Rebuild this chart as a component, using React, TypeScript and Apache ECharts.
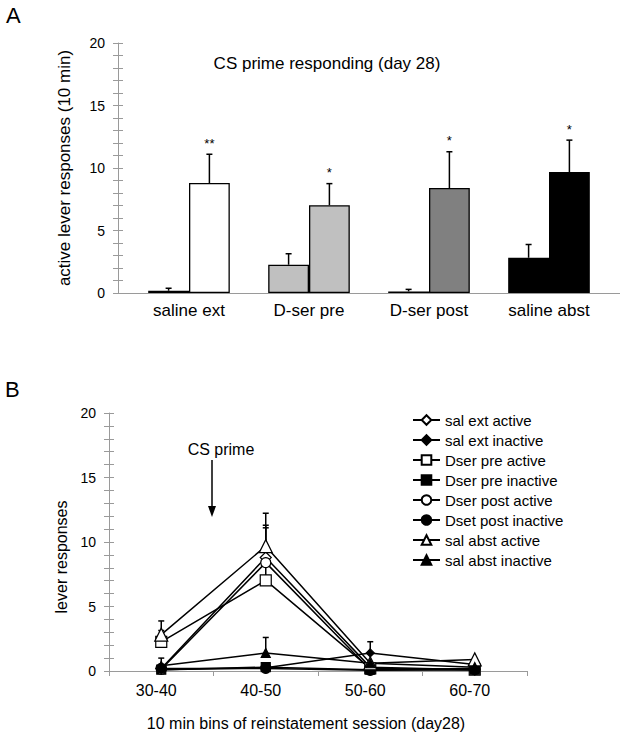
import React, { useEffect, useRef } from 'react';
import * as echarts from 'echarts';

// ---------- Panel A data ----------
const barCategories = ['saline ext', 'D-ser pre', 'D-ser post', 'saline abst'];
const preValues = [0.18, 2.26, 0.13, 2.82];
const preErrors = [0.2, 0.88, 0.16, 1.06];
const postValues = [8.8, 7.02, 8.4, 9.68];
const postErrors = [2.3, 1.73, 2.9, 2.55];
const barColors = ['#ffffff', '#c0c0c0', '#808080', '#000000'];
const significance = ['**', '*', '*', '*'];

// ---------- Panel B data ----------
const binCategories = ['30-40', '40-50', '50-60', '60-70'];
const lineNames = [
  'sal ext active',
  'sal ext inactive',
  'Dser pre active',
  'Dser pre inactive',
  'Dser post active',
  'Dset post inactive',
  'sal abst active',
  'sal abst inactive',
];
const salExtActive = [0.2, 8.8, 0.3, 0.1];
const salExtInactive = [0.1, 0.25, 1.4, 0.5];
const dserPreActive = [2.26, 7.02, 0.2, 0.1];
const dserPreInactive = [0.1, 0.3, 0.1, 0.1];
const dserPostActive = [0.13, 8.4, 0.1, 0.2];
const dserPostInactive = [0.2, 0.2, 0.05, 0.1];
const salAbstActive = [2.82, 9.68, 0.6, 0.9];
const salAbstInactive = [0.4, 1.4, 0.6, 0.3];

const salExtActiveErr = [0.2, 2.3, 0, 0];
const salExtInactiveErr = [0, 0, 0.87, 0];
const dserPreActiveErr = [0.88, 1.73, 0, 0];
const dserPreInactiveErr = [0, 0, 0, 0];
const dserPostActiveErr = [0.16, 2.9, 0, 0];
const dserPostInactiveErr = [0, 0, 0, 0];
const salAbstActiveErr = [1.06, 2.55, 0, 0];
const salAbstInactiveErr = [0.6, 1.2, 0, 0];

const lineValues = [
  salExtActive, salExtInactive, dserPreActive, dserPreInactive,
  dserPostActive, dserPostInactive, salAbstActive, salAbstInactive,
];
const lineErrors = [
  salExtActiveErr, salExtInactiveErr, dserPreActiveErr, dserPreInactiveErr,
  dserPostActiveErr, dserPostInactiveErr, salAbstActiveErr, salAbstInactiveErr,
];
const lineSymbols = ['diamond', 'diamond', 'rect', 'rect', 'circle', 'circle', 'triangle', 'triangle'];
const lineSymbolSizes = [11, 8, 11, 9, 10, 10, 13, 9];
const lineFills = ['#ffffff', '#000000', '#ffffff', '#000000', '#ffffff', '#000000', '#ffffff', '#000000'];

const FONT = 'Liberation Sans, Arial, Helvetica, sans-serif';
const AXIS_GRAY = '#9a9a9a';

export default function App() {
  const ref = useRef<HTMLDivElement>(null);

  useEffect(() => {
    if (!ref.current) return;
    const chart = echarts.init(ref.current, undefined, { renderer: 'svg' });

    const BAR_W = 0.34; // fraction of band

    const errItemsA: { cat: number; val: number; top: number; side: number; mark: string }[] = [];
    barCategories.forEach((_, i) => {
      errItemsA.push({ cat: i, val: preValues[i], top: preValues[i] + preErrors[i], side: -1, mark: '' });
      errItemsA.push({ cat: i, val: postValues[i], top: postValues[i] + postErrors[i], side: 1, mark: significance[i] });
    });

    const errItemsB: number[][] = [];
    lineValues.forEach((vals, s) => {
      vals.forEach((v, i) => {
        const e = lineErrors[s][i];
        if (e > 0) errItemsB.push([i, v, v + e]);
      });
    });

    const yAxisBase = (gridIndex: number, offset: number, inside: boolean, showLabel: boolean) => ({
      type: 'value',
      gridIndex,
      position: 'left',
      offset,
      min: 0,
      max: 20,
      interval: 5,
      axisLine: { show: !inside, lineStyle: { color: AXIS_GRAY, width: 1 } },
      axisTick: { show: true, inside, length: 5, lineStyle: { color: AXIS_GRAY } },
      minorTick: { show: true, splitNumber: 5, length: 5, lineStyle: { color: AXIS_GRAY } },
      splitLine: { show: false },
      minorSplitLine: { show: false },
      axisLabel: { show: showLabel, fontSize: 14, color: '#000', margin: 13, fontFamily: FONT },
    });

    const option: any = {
      animation: false,
      textStyle: { fontFamily: FONT },
      grid: [
        { left: 129, top: 43, width: 480, height: 250 },
        { left: 109, top: 413, width: 418, height: 258 },
      ],
      xAxis: [
        {
          type: 'category',
          gridIndex: 0,
          data: barCategories,
          axisLine: { show: false },
          axisTick: { show: false },
          axisLabel: { fontSize: 17, color: '#000', margin: 9, fontFamily: FONT },
        },
        {
          type: 'category',
          gridIndex: 1,
          data: binCategories,
          boundaryGap: true,
          axisLine: { show: true, lineStyle: { color: AXIS_GRAY, width: 1 } },
          axisTick: { show: true, inside: false, length: 5, interval: 0, lineStyle: { color: AXIS_GRAY } },
          axisLabel: { fontSize: 16, color: '#000', margin: 11, padding: [0, 10, 0, 0], fontFamily: FONT },
        },
      ],
      yAxis: [
        yAxisBase(0, 11, false, true),
        yAxisBase(0, 11, true, false),
        yAxisBase(1, 0, false, true),
        yAxisBase(1, 0, true, false),
      ],
      legend: {
        show: true,
        data: lineNames,
        orient: 'vertical',
        left: 412,
        top: 410,
        padding: 0,
        itemWidth: 27,
        itemHeight: 12,
        itemGap: 0,
        selectedMode: false,
        textStyle: { fontSize: 15, lineHeight: 20, color: '#000', fontFamily: FONT },
      },
      series: [
        {
          type: 'bar',
          xAxisIndex: 0,
          yAxisIndex: 0,
          barWidth: BAR_W * 100 + '%',
          barGap: '0%',
          data: preValues.map((v, i) => ({ value: v, itemStyle: { color: barColors[i] } })),
          itemStyle: { borderColor: '#000', borderWidth: 1.3 },
          z: 2,
        },
        {
          type: 'bar',
          xAxisIndex: 0,
          yAxisIndex: 0,
          barWidth: BAR_W * 100 + '%',
          barGap: '0%',
          data: postValues.map((v, i) => ({ value: v, itemStyle: { color: barColors[i] } })),
          itemStyle: { borderColor: '#000', borderWidth: 1.3 },
          z: 2,
        },
        {
          type: 'custom',
          xAxisIndex: 0,
          yAxisIndex: 0,
          z: 3,
          silent: true,
          data: errItemsA.map((d) => [d.cat, d.val, d.top, d.side]),
          renderItem: (params: any, api: any) => {
            const item = errItemsA[params.dataIndex];
            const base = api.coord([api.value(0), api.value(1)]);
            const top = api.coord([api.value(0), api.value(2)]);
            const band = api.size([1, 0])[0];
            const x = base[0] + (api.value(3) * band * BAR_W) / 2;
            const children: any[] = [
              { type: 'line', shape: { x1: x, y1: base[1], x2: x, y2: top[1] }, style: { stroke: '#000', lineWidth: 1.5 } },
              { type: 'line', shape: { x1: x - 3, y1: top[1], x2: x + 3, y2: top[1] }, style: { stroke: '#000', lineWidth: 1.5 } },
            ];
            if (item.mark) {
              children.push({
                type: 'text',
                x,
                y: top[1] - 11,
                style: { text: item.mark, fontSize: 13, fill: '#000', align: 'center', verticalAlign: 'middle', fontFamily: FONT },
              });
            }
            return { type: 'group', children };
          },
        },
        {
          type: 'custom',
          xAxisIndex: 1,
          yAxisIndex: 2,
          z: 1,
          silent: true,
          data: errItemsB,
          renderItem: (params: any, api: any) => {
            const base = api.coord([api.value(0), api.value(1)]);
            const top = api.coord([api.value(0), api.value(2)]);
            const x = base[0];
            return {
              type: 'group',
              children: [
                { type: 'line', shape: { x1: x, y1: base[1], x2: x, y2: top[1] }, style: { stroke: '#000', lineWidth: 1.5 } },
                { type: 'line', shape: { x1: x - 3, y1: top[1], x2: x + 3, y2: top[1] }, style: { stroke: '#000', lineWidth: 1.5 } },
              ],
            };
          },
        },
        ...lineNames.map((name, s) => ({
          type: 'line',
          name,
          xAxisIndex: 1,
          yAxisIndex: 2,
          data: lineValues[s],
          symbol: lineSymbols[s],
          symbolSize: lineSymbolSizes[s],
          showAllSymbol: true,
          lineStyle: { color: '#000', width: 1.5 },
          itemStyle: { color: lineFills[s], borderColor: '#000', borderWidth: 1.2, opacity: 1 },
          z: 2,
        })),
      ],
      graphic: [
        { type: 'text', left: 6, top: 4, style: { text: 'A', fontSize: 22, fill: '#000', fontFamily: FONT } },
        { type: 'text', left: 5, top: 378, style: { text: 'B', fontSize: 22, fill: '#000', fontFamily: FONT } },
        {
          type: 'line',
          shape: { x1: 118, y1: 293.5, x2: 620, y2: 293.5 },
          style: { stroke: AXIS_GRAY, lineWidth: 1 },
          silent: true,
        },
        {
          type: 'text',
          x: 327,
          y: 63,
          style: { text: 'CS prime responding (day 28)', fontSize: 17, fill: '#000', align: 'center', verticalAlign: 'middle', fontFamily: FONT },
        },
        {
          type: 'text',
          x: 64,
          y: 168,
          rotation: Math.PI / 2,
          style: { text: 'active lever responses (10 min)', fontSize: 17, fill: '#000', align: 'center', verticalAlign: 'middle', fontFamily: FONT },
        },
        {
          type: 'text',
          x: 61,
          y: 557,
          rotation: Math.PI / 2,
          style: { text: 'lever responses', fontSize: 16, fill: '#000', align: 'center', verticalAlign: 'middle', fontFamily: FONT },
        },
        {
          type: 'text',
          x: 306,
          y: 723,
          style: { text: '10 min bins of reinstatement session (day28)', fontSize: 16, fill: '#000', align: 'center', verticalAlign: 'middle', fontFamily: FONT },
        },
        {
          type: 'text',
          x: 221,
          y: 449,
          style: { text: 'CS prime', fontSize: 16, fill: '#000', align: 'center', verticalAlign: 'middle', fontFamily: FONT },
        },
        {
          type: 'line',
          shape: { x1: 212, y1: 460, x2: 212, y2: 508 },
          style: { stroke: '#000', lineWidth: 1.5 },
        },
        {
          type: 'polygon',
          shape: { points: [[208, 506], [216, 506], [212, 517]] },
          style: { fill: '#000' },
        },
      ],
    };

    chart.setOption(option);
    return () => chart.dispose();
  }, []);

  return <div ref={ref} style={{ position: 'absolute', left: 0, top: 0, width: 626, height: 740 }} />;
}
